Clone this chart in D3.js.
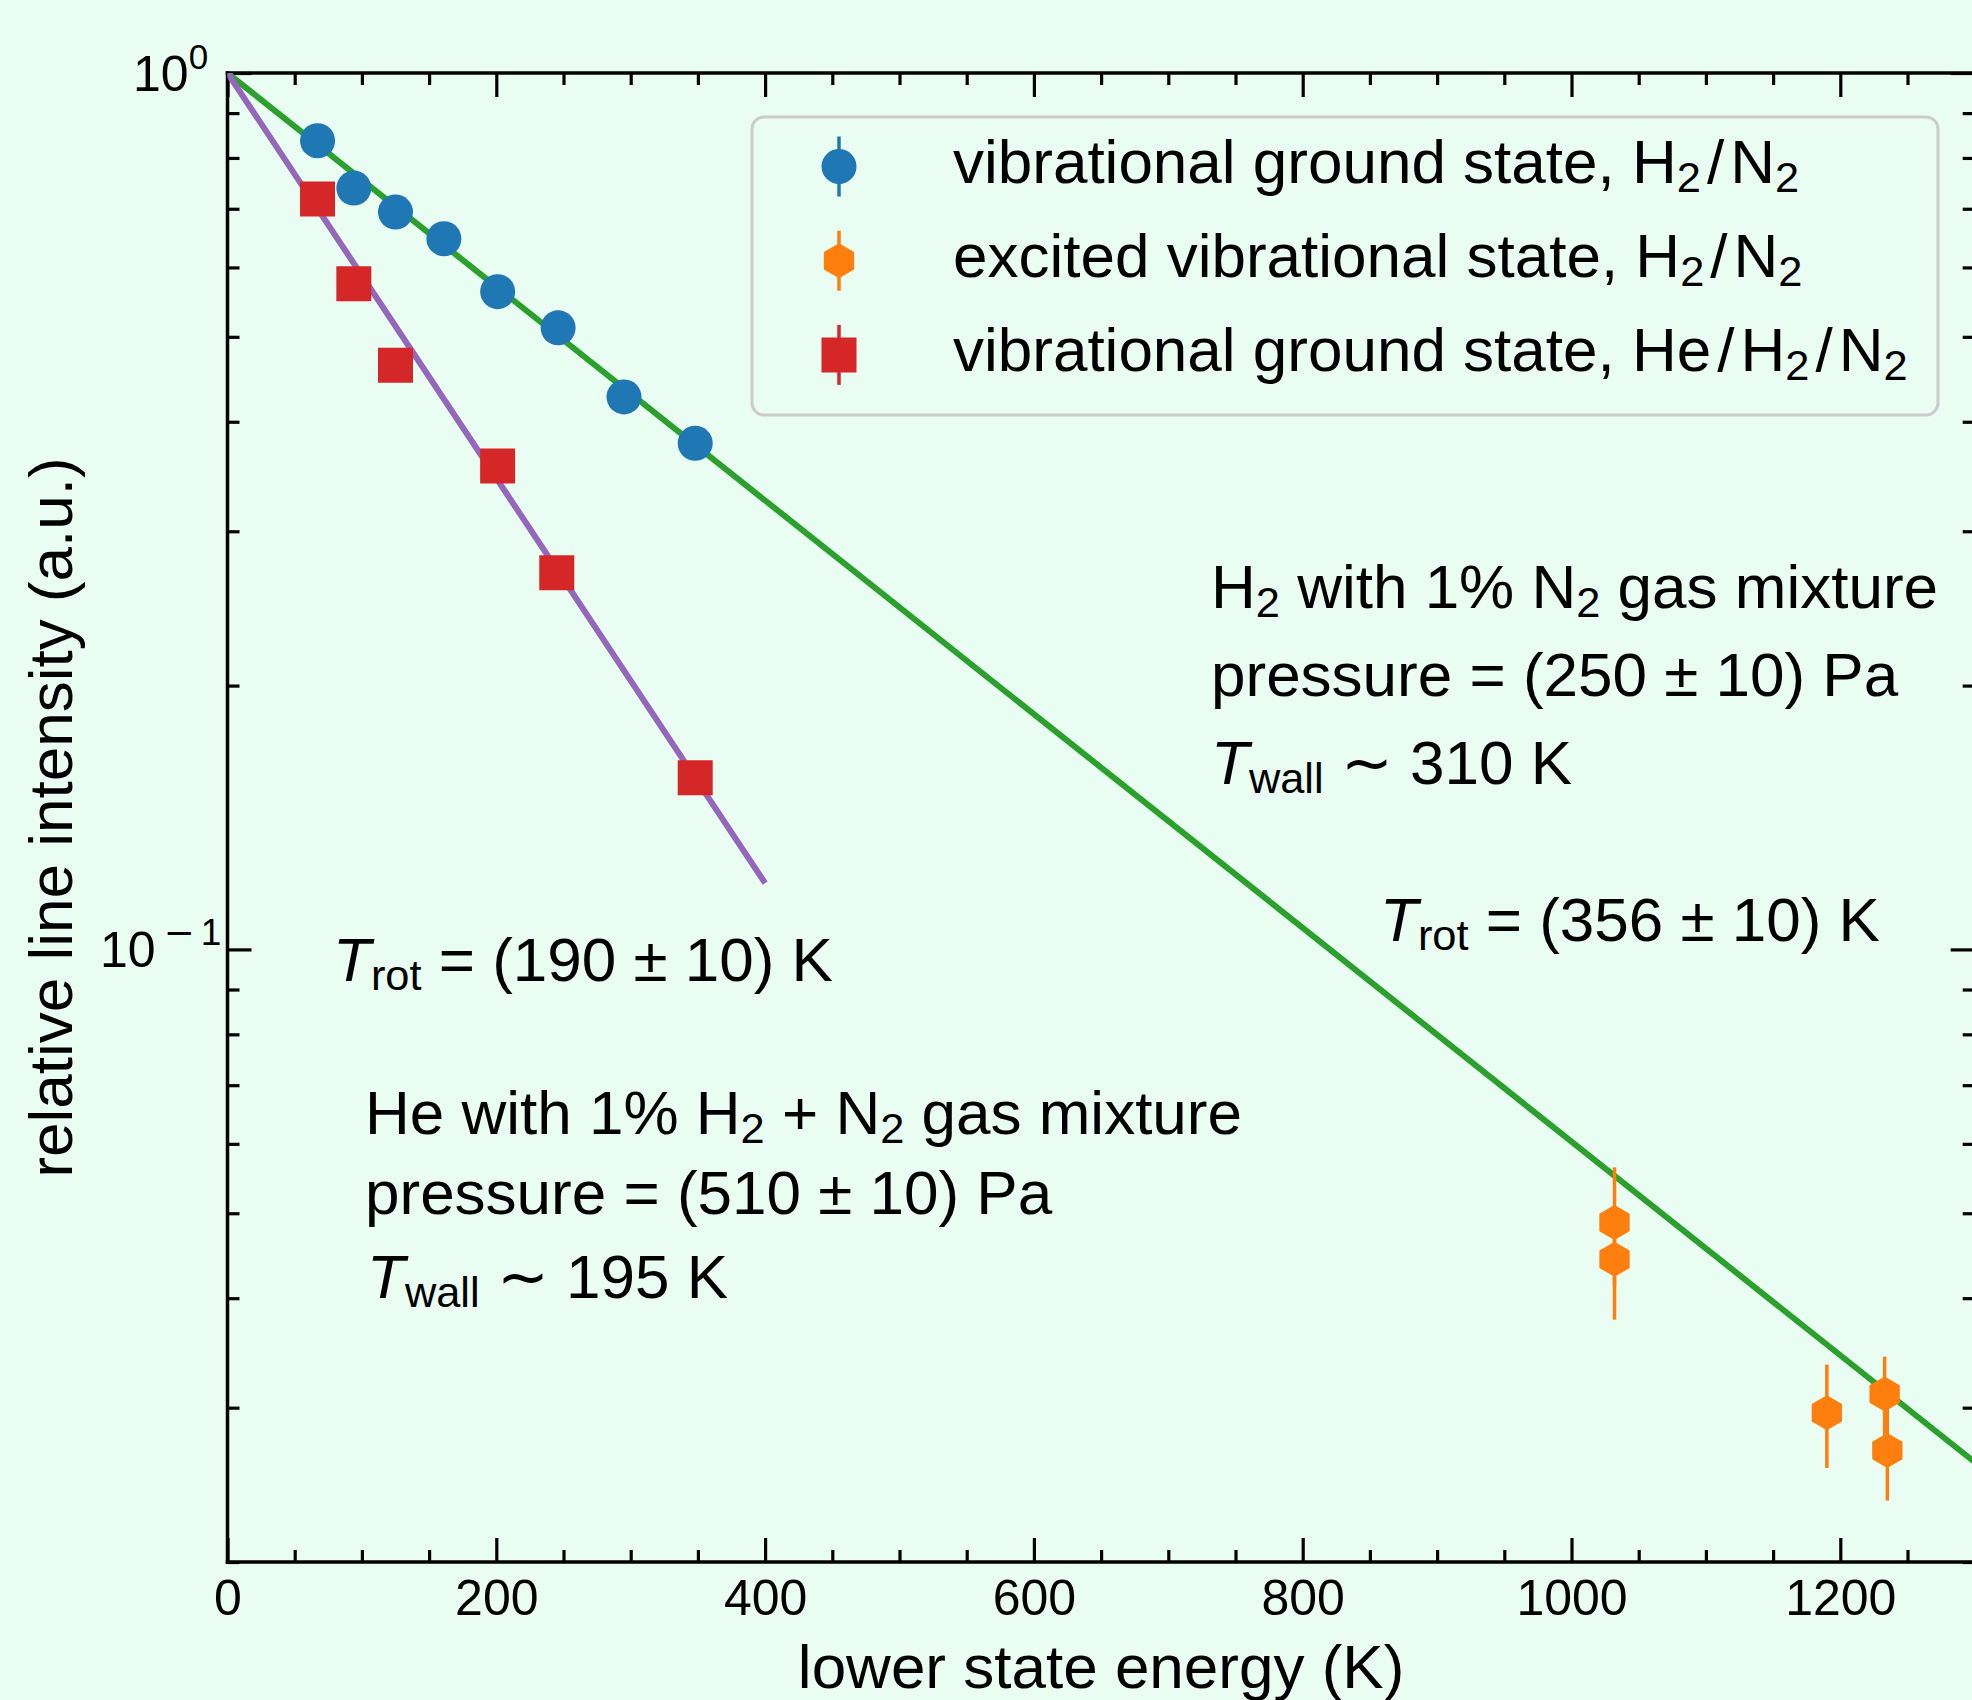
<!DOCTYPE html>
<meta charset="utf-8">
<style>
body { margin: 0; background: #eafdf2; }
svg { display: block; font-family: "Liberation Sans", Arial, Helvetica, sans-serif; }
text { white-space: pre; fill: #000; }
.spine { stroke: #000; stroke-width: 3.5; stroke-linecap: square; }
.ax line { stroke: #000; stroke-width: 3.2; }
.ax text { font-size: 50px; font-family: "Liberation Sans", Arial, sans-serif; }
</style>
<svg width="1972" height="1700"></svg>
<script src="https://d3js.org/d3.v7.min.js"></script>
<script>
// values
var energyGround    = [67, 94, 125, 161, 201, 246, 295, 348];
var intensityGround = [0.837, 0.739, 0.694, 0.647, 0.563, 0.512, 0.427, 0.378];
var errGround       = [0.015, 0.015, 0.015, 0.015, 0.012, 0.012, 0.010, 0.010];

var energyExcited    = [1032, 1032, 1190, 1233, 1235];
var intensityExcited = [0.0488, 0.0443, 0.0296, 0.0311, 0.0268];
var errExcited       = [0.0076, 0.0065, 0.0040, 0.0032, 0.0033];

var energyHe    = [67, 94, 125, 201, 245, 348];
var intensityHe = [0.718, 0.575, 0.464, 0.356, 0.269, 0.157];
var errHe       = [0.015, 0.012, 0.010, 0.008, 0.006, 0.004];

var fitH2Energy = [0, 1300];
var fitH2Intensity = [1, 0.026];
var fitHeEnergy = [0, 400];
var fitHeIntensity = [1, 0.119];

var xTicks = [0, 200, 400, 600, 800, 1000, 1200];
var yTicks = [1, 0.1];
var yTickExp = ["0", "\u22121"];
var yMinor = [0.02, 0.03, 0.04, 0.05, 0.06, 0.07, 0.08, 0.09,
              0.2, 0.3, 0.4, 0.5, 0.6, 0.7, 0.8, 0.9];

var bg = "#eafdf2";
var cBlue = "#1f77b4", cOrange = "#ff7f0e", cRed = "#d62728",
    cGreen = "#2ca02c", cPurple = "#9467bd";

var svg = d3.select("svg");
svg.append("rect").attr("width", 1972).attr("height", 1700).attr("fill", bg);

var L = 227.5, R = 1974.7, T = 73, B = 1562;

var x = d3.scaleLinear().domain([0, 1300]).range([L, R]);
var y = d3.scaleLog().domain([0.02, 1]).range([B, T]);

var xMinor = d3.range(50, 1300, 50).filter(function(v) { return v % 200 !== 0; });

// ticks, all pointing inward
function ticks(axis, tr, vals, len) {
    var g = svg.append("g").attr("class", "ax").attr("transform", tr)
        .call(axis.tickValues(vals).tickSize(-len).tickSizeOuter(0));
    g.select(".domain").remove();
    return g;
}
ticks(d3.axisBottom(x).tickPadding(17.5).tickFormat(d3.format("d")), "translate(0," + B + ")", xTicks, 24)
    .selectAll("text").attr("dy", "0.71em");
ticks(d3.axisBottom(x).tickFormat(""), "translate(0," + B + ")", xMinor, 12);
ticks(d3.axisTop(x).tickFormat(""), "translate(0," + T + ")", xTicks, 24);
ticks(d3.axisTop(x).tickFormat(""), "translate(0," + T + ")", xMinor, 12);
ticks(d3.axisLeft(y).tickFormat(""), "translate(" + L + ",0)", yTicks, 24);
ticks(d3.axisLeft(y).tickFormat(""), "translate(" + L + ",0)", yMinor, 12);
ticks(d3.axisRight(y).tickFormat(""), "translate(" + R + ",0)", yTicks, 24);
ticks(d3.axisRight(y).tickFormat(""), "translate(" + R + ",0)", yMinor, 12);

// y tick labels as powers of ten
var yLabelStart = [133, 100];
yTicks.forEach(function(v, i) {
    var t = svg.append("text").attr("x", yLabelStart[i]).attr("y", y(v) + 18)
        .style("font-size", "50px");
    t.append("tspan").text("10");
    var e = yTickExp[i];
    if (e.charAt(0) === "\u2212") {
        t.append("tspan").attr("dx", 8).attr("dy", -22).style("font-size", "37px")
            .style("font-family", "'DejaVu Sans', sans-serif").text("\u2212");
        t.append("tspan").attr("dx", 6).style("font-size", "37px").text(e.slice(1));
    } else {
        t.append("tspan").attr("dy", -22).style("font-size", "35px").text(e);
    }
});

// spines
[[L, T, L, B], [L, B, R, B], [L, T, R, T], [R, T, R, B]].forEach(function(s) {
    svg.append("line").attr("class", "spine")
        .attr("x1", s[0]).attr("y1", s[1]).attr("x2", s[2]).attr("y2", s[3]);
});

// axis labels
svg.append("text").attr("x", (L + R) / 2).attr("y", 1688)
    .attr("text-anchor", "middle").style("font-size", "62px")
    .text("lower state energy (K)");
svg.append("text").attr("transform", "translate(72," + (T + B) / 2 + ") rotate(-90)")
    .attr("text-anchor", "middle").style("font-size", "62px")
    .text("relative line intensity (a.u.)");

// plot area
svg.append("clipPath").attr("id", "clip").append("rect")
    .attr("x", L).attr("y", T).attr("width", R - L).attr("height", B - T);
var plot = svg.append("g").attr("clip-path", "url(#clip)");

var line = d3.line().x(function(d) { return x(d[0]); }).y(function(d) { return y(d[1]); });

plot.append("path").datum(d3.zip(fitH2Energy, fitH2Intensity))
    .attr("d", line).attr("fill", "none").attr("stroke", cGreen).attr("stroke-width", 6);
plot.append("path").datum(d3.zip(fitHeEnergy, fitHeIntensity))
    .attr("d", line).attr("fill", "none").attr("stroke", cPurple).attr("stroke-width", 6);

var hexPath = function(r) {
    var pts = d3.range(6).map(function(k) {
        var a = Math.PI / 2 + k * Math.PI / 3;
        return [r * Math.cos(a), -r * Math.sin(a)];
    });
    return "M" + pts.join("L") + "Z";
};
var markers = {
    circle: d3.symbol().type(d3.symbolCircle).size(Math.PI * 17.5 * 17.5)(),
    square: d3.symbol().type(d3.symbolSquare).size(35 * 35)(),
    hex: hexPath(17.5)
};

function series(xs, ys, es, color, shape) {
    var data = d3.zip(xs, ys, es);
    var g = plot.append("g");
    g.selectAll("line").data(data).enter().append("line")
        .attr("x1", function(d) { return x(d[0]); })
        .attr("x2", function(d) { return x(d[0]); })
        .attr("y1", function(d) { return y(d[1] + d[2]); })
        .attr("y2", function(d) { return y(d[1] - d[2]); })
        .attr("stroke", color).attr("stroke-width", 3.5);
    g.selectAll("path").data(data).enter().append("path")
        .attr("d", markers[shape]).attr("fill", color)
        .attr("transform", function(d) { return "translate(" + x(d[0]) + "," + y(d[1]) + ")"; });
}
series(energyGround, intensityGround, errGround, cBlue, "circle");
series(energyExcited, intensityExcited, errExcited, cOrange, "hex");
series(energyHe, intensityHe, errHe, cRed, "square");

// text with italic / subscript pieces, roughly like mathtext
function rich(xp, yb, parts, size) {
    var t = svg.append("text").attr("x", xp).attr("y", yb).style("font-size", size + "px");
    var shift = 0;
    parts.forEach(function(p) {
        var s = t.append("tspan").text(p[0]);
        var target = 0;
        if (p[1] === "sub") { target = size * 0.15; s.style("font-size", (size * 0.7) + "px"); }
        if (p[1] === "i") s.style("font-style", "italic");
        if (p[2]) s.attr("dx", p[2]);
        if (target !== shift) { s.attr("dy", target - shift); shift = target; }
    });
    return t;
}

// legend
svg.append("rect").attr("x", 752).attr("y", 117).attr("width", 1186).attr("height", 298)
    .attr("rx", 12).attr("fill", bg).attr("stroke", "#cccccc").attr("stroke-width", 3);
var legendItems = [
    {color: cBlue, shape: "circle",
     parts: [["vibrational ground state, H", ""], ["2", "sub"], ["/", "", 6], ["N", "", 6], ["2", "sub"]]},
    {color: cOrange, shape: "hex",
     parts: [["excited vibrational state, H", ""], ["2", "sub"], ["/", "", 6], ["N", "", 6], ["2", "sub"]]},
    {color: cRed, shape: "square",
     parts: [["vibrational ground state, He", ""], ["/", "", 6], ["H", "", 6], ["2", "sub"],
             ["/", "", 6], ["N", "", 6], ["2", "sub"]]}
];
legendItems.forEach(function(it, i) {
    var cy = 166.5 + i * 94.2;
    svg.append("line").attr("x1", 839).attr("x2", 839).attr("y1", cy - 30).attr("y2", cy + 30)
        .attr("stroke", it.color).attr("stroke-width", 3.5);
    svg.append("path").attr("d", markers[it.shape]).attr("fill", it.color)
        .attr("transform", "translate(839," + cy + ")");
    rich(953, cy + 16, it.parts, 62);
});

// annotations
rich(1211, 607.5, [["H", ""], ["2", "sub"], [" with 1% N", ""], ["2", "sub"], [" gas mixture", ""]], 62);
rich(1211, 695.5, [["pressure = (250 \u00b1 10) Pa", ""]], 62);
rich(1211, 783.5, [["T", "i"], ["wall", "sub"], [" \u223c 310 K", ""]], 62);
rich(1380, 941, [["T", "i"], ["rot", "sub"], [" = (356 \u00b1 10) K", ""]], 62);

rich(333, 981, [["T", "i"], ["rot", "sub"], [" = (190 \u00b1 10) K", ""]], 62);
rich(365, 1134, [["He with 1% H", ""], ["2", "sub"], [" + N", ""], ["2", "sub"], [" gas mixture", ""]], 62);
rich(365, 1213.5, [["pressure = (510 \u00b1 10) Pa", ""]], 62);
rich(367, 1298, [["T", "i"], ["wall", "sub"], [" \u223c 195 K", ""]], 62);
</script>
